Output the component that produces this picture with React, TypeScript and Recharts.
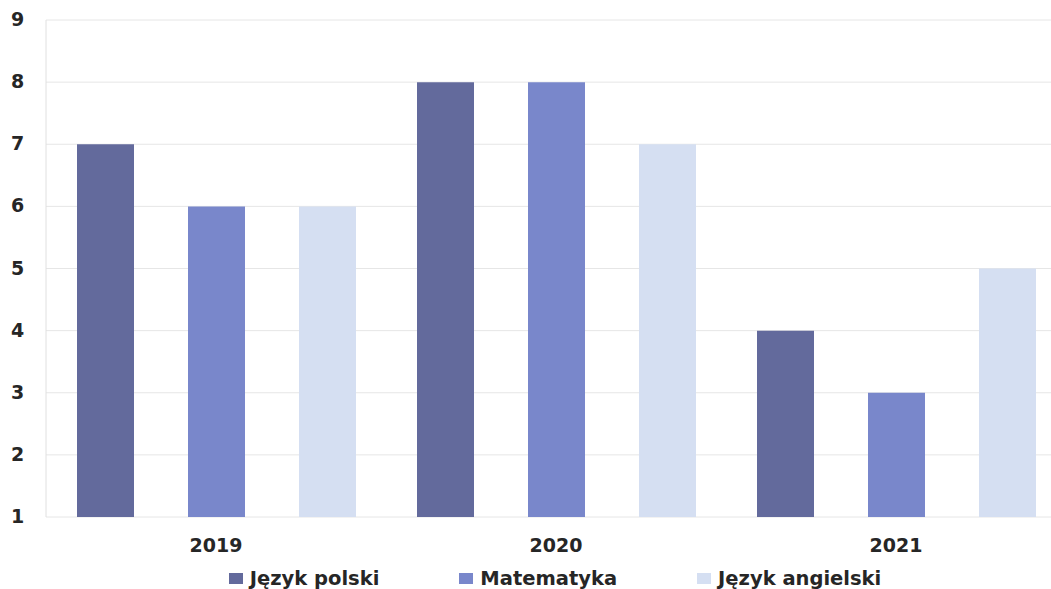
import React from 'react';
import { BarChart, Bar, XAxis, YAxis, CartesianGrid, Legend } from 'recharts';

const years = ['2019', '2020', '2021'];
const polski = [7, 8, 4];
const matematyka = [6, 8, 3];
const angielski = [6, 7, 5];
const yTicks = [1, 2, 3, 4, 5, 6, 7, 8, 9];

const seriesInfo = [
  { key: 'polski', name: 'Język polski', color: '#636a9c' },
  { key: 'matematyka', name: 'Matematyka', color: '#7987cb' },
  { key: 'angielski', name: 'Język angielski', color: '#d5dff2' },
];

const data = years.map((year, i) => ({
  year,
  polski: polski[i],
  matematyka: matematyka[i],
  angielski: angielski[i],
}));

const font = '"DejaVu Sans", Verdana, sans-serif';
const textColor = '#262626';

const YTick = (props: any) => (
  <text x={11} y={props.y} dy={6} textAnchor="start" fontFamily={font} fontWeight="bold" fontSize={19} fill={textColor}>
    {props.payload.value}
  </text>
);

const LegendContent = () => (
  <div style={{ display: 'flex', justifyContent: 'center', paddingLeft: 44, fontFamily: font, fontWeight: 'bold', fontSize: 19.5, color: textColor }}>
    {seriesInfo.map((s, i) => (
      <div key={s.key} style={{ display: 'flex', alignItems: 'center', marginLeft: i === 0 ? 0 : 80 }}>
        <span style={{ display: 'inline-block', width: 14, height: 11, background: s.color, marginRight: 7 }} />
        <span>{s.name}</span>
      </div>
    ))}
  </div>
);

export default function App() {
  return (
    <div style={{ position: 'absolute', left: 0, top: 0, width: 1051, height: 589, overflow: 'hidden', background: '#fff' }}>
      <BarChart
        width={1066}
        height={589}
        data={data}
        margin={{ top: 20, right: 0, bottom: 0, left: 0 }}
        barCategoryGap={30}
        barGap={54}
      >
        <CartesianGrid vertical={false} stroke="#e6e6e6" />
        <XAxis
          dataKey="year"
          axisLine={false}
          tickLine={false}
          height={50}
          tick={{ fontFamily: font, fontWeight: 'bold', fontSize: 19, fill: textColor, dy: 14 }}
        />
        <YAxis
          domain={[1, 9]}
          ticks={yTicks}
          width={46}
          axisLine={{ stroke: '#e0e0e0' }}
          tickLine={false}
          tick={<YTick />}
          interval={0}
        />
        <Legend verticalAlign="bottom" height={22} content={<LegendContent />} />
        {seriesInfo.map((s) => (
          <Bar key={s.key} dataKey={s.key} name={s.name} fill={s.color} barSize={57} isAnimationActive={false} />
        ))}
      </BarChart>
    </div>
  );
}
